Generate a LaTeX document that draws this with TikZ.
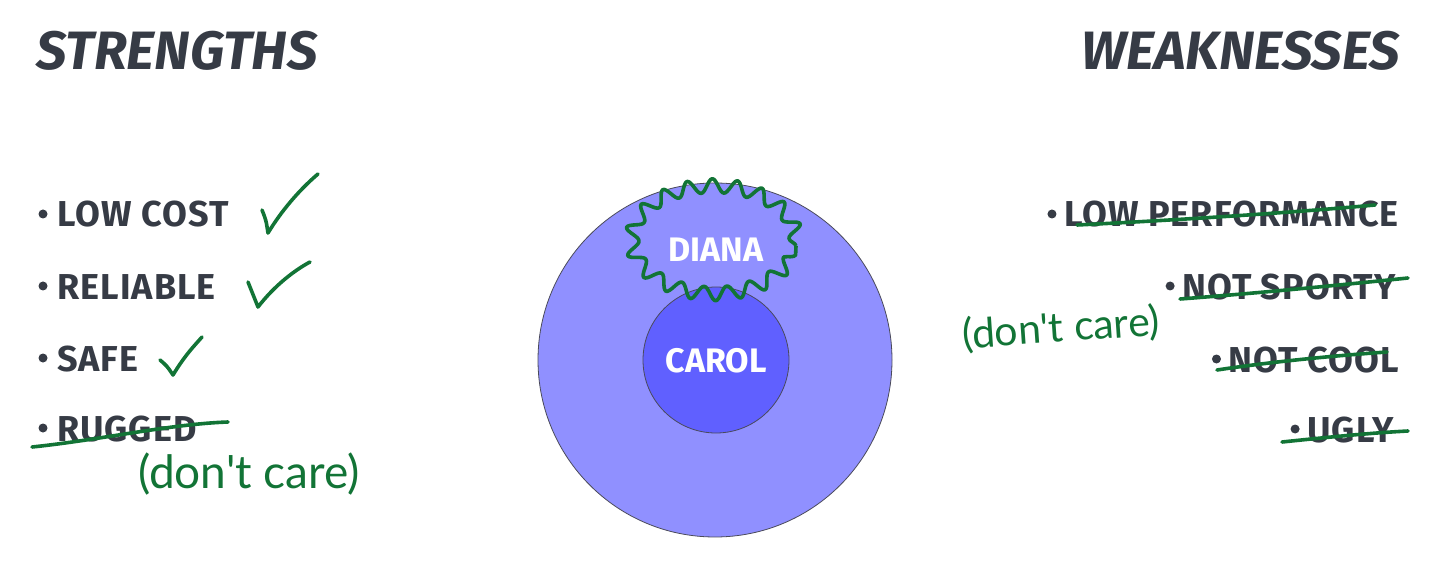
\documentclass[tikz,border=0pt]{standalone}
\usepackage{fontspec}
\setmainfont{Fira Sans}
\newfontfamily\handfont{Lato}
\usetikzlibrary{decorations.pathmorphing,calc}
\definecolor{ink}{HTML}{363B45}
\definecolor{pen}{HTML}{127436}
\definecolor{outerfill}{HTML}{9090FF}
\definecolor{innerfill}{HTML}{6060FF}
\definecolor{rim}{HTML}{4A4A5A}
\tikzset{
  heading/.style={font=\fontsize{54}{60}\selectfont\bfseries\itshape, text=ink, inner sep=0pt},
  item/.style={font=\fontsize{36}{40}\selectfont\bfseries\addfontfeatures{LetterSpace=3}, text=ink, inner sep=0pt},
  dot/.style={circle, fill=ink, inner sep=0pt, minimum size=9pt},
  inlabel/.style={font=\fontsize{34}{38}\selectfont\bfseries, text=white, inner sep=0pt},
  hand/.style={font=\handfont\fontsize{46}{50}\selectfont, text=pen, inner sep=0pt},
  handsmall/.style={font=\handfont\fontsize{41}{45}\selectfont, text=pen, inner sep=0pt},
  penline/.style={draw=pen, line width=3.6pt, line cap=round, line join=round},
  disc/.style={circle, draw=rim, line width=0.8pt, inner sep=0pt}
}
\begin{document}
\begin{tikzpicture}[x=1pt,y=-1pt]
\useasboundingbox (0,0) rectangle (1440,569);
% headings
\node[heading, anchor=base west] (hs) at (36,70) {STRENGTHS};
\node[heading, anchor=base east] (hw) at (1400,70) {WEAKNESSES};
% strengths
\node[item, anchor=base west] (s1) at (57,227) {LOW COST};
\node[item, anchor=base west] (s2) at (57,299) {RELIABLE};
\node[item, anchor=base west] (s3) at (57,371) {SAFE};
\node[item, anchor=base west] (s4) at (57,441) {RUGGED};
\foreach \n in {s1,s2,s3,s4} \node[dot] (b\n) at ($(\n.base west)+(-14,-13)$) {};
% checks
\coordinate (c1a) at (262,210); \coordinate (c1b) at (268,233); \coordinate (c1c) at (318,174);
\coordinate (c2a) at (248,282); \coordinate (c2b) at (258,307); \coordinate (c2c) at (310,262);
\coordinate (c3a) at (160,360); \coordinate (c3b) at (173,375); \coordinate (c3c) at (202,337);
\draw[penline] (c1a) .. controls (266,220) .. (c1b) .. controls (285,205) and (305,185) .. (c1c);
\draw[penline] (c2a) .. controls (253,295) .. (c2b) .. controls (275,285) and (295,270) .. (c2c);
\draw[penline] (c3a) .. controls (167,366) .. (c3b) .. controls (185,355) and (195,345) .. (c3c);
% strike RUGGED
\coordinate (r1a) at (32,447); \coordinate (r1b) at (228,422);
\draw[penline] (r1a) .. controls (100,440) and (170,424) .. (r1b);
\node[hand] (dc1) at (249,474) {(don't care)};
% weaknesses
\node[item, anchor=base east] (w1) at (1399,227) {LOW PERFORMANCE};
\node[item, anchor=base east] (w2) at (1396,299) {NOT SPORTY};
\node[item, anchor=base east] (w3) at (1399,372) {NOT COOL};
\node[item, anchor=base east] (w4) at (1394,442) {UGLY};
\foreach \n in {w1,w2,w3,w4} \node[dot] (b\n) at ($(\n.base west)+(-12,-13)$) {};
\coordinate (x1a) at (1077,225); \coordinate (x1b) at (1375,205);
\coordinate (x2a) at (1180,299); \coordinate (x2b) at (1408,278);
\coordinate (x3a) at (1217,370); \coordinate (x3b) at (1387,352);
\coordinate (x4a) at (1282,442); \coordinate (x4b) at (1408,431);
\draw[penline] (x1a) .. controls (1180,220) and (1300,212) .. (x1b);
\draw[penline] (x2a) .. controls (1260,293) and (1340,285) .. (x2b);
\draw[penline] (x3a) .. controls (1270,362) and (1330,356) .. (x3b);
\draw[penline] (x4a) .. controls (1330,437) and (1370,433) .. (x4b);
\node[handsmall, rotate=4] (dc2) at (1061,329) {(don't care)};
% circles
\node[disc, fill=outerfill, minimum size=354pt] (carolout) at (715,360) {};
\node[disc, fill=innerfill, minimum size=146pt] (carol) at (716,360) {};
\node[inlabel] (carollbl) at (716,361) {CAROL};
\draw[pen, line width=3.6pt, line join=round, decorate, decoration={snake, amplitude=7pt, segment length=24pt}]
  (714,246) ellipse [x radius=82pt, y radius=54pt];
\node[inlabel] (diana) at (716,250) {DIANA};
\end{tikzpicture}
\end{document}
